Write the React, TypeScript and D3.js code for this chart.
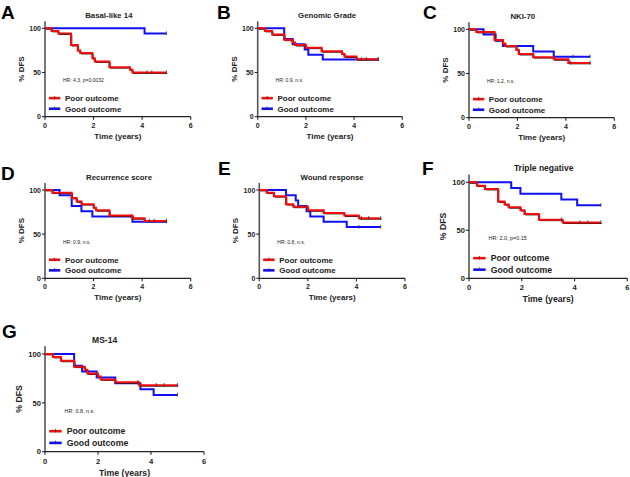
import React from "react";
import * as d3 from "d3";

// ---- data: Kaplan-Meier steps [time (years), % DFS after event] ----
const xTicks = [0, 2, 4, 6];
const yTicks = [0, 50, 100];
const legendLabels = ["Poor outcome", "Good outcome"];

const basalPoor = [[0, 100], [0.27, 97], [0.55, 94], [1.07, 81], [1.35, 75], [1.45, 72], [1.95, 66], [2.05, 62.5], [2.65, 56], [3.5, 53], [3.6, 50]];
const basalPoorCensor = [4.2, 4.4, 5.0];
const basalGood = [[0, 100], [4.1, 94]];
const basalGoodCensor = [5.0];

const genomicPoor = [[0, 100], [0.3, 97], [0.6, 93], [1.1, 87], [1.45, 84], [1.55, 81], [2.0, 78], [2.65, 74], [3.5, 71], [3.6, 68], [4.1, 65]];
const genomicPoorCensor = [4.3, 4.5, 5.0];
const genomicGood = [[0, 100], [1.1, 88], [1.45, 82], [1.95, 76], [2.1, 70], [2.7, 64.7]];
const genomicGoodCensor = [5.0];

const nkiPoor = [[0, 100], [0.3, 97], [1.05, 88], [1.4, 84], [1.5, 81], [1.95, 77], [2.05, 72], [2.65, 68.5], [3.5, 66], [4.1, 62]];
const nkiPoorCensor = [4.2, 5.0];
const nkiGood = [[0, 100], [0.6, 94], [1.1, 87], [1.4, 81], [2.65, 75], [3.5, 69]];
const nkiGoodCensor = [4.3, 5.0];

const recPoor = [[0, 100], [0.3, 97], [1.1, 91], [1.3, 87], [1.5, 84], [2.0, 80], [2.1, 77], [2.65, 71], [3.6, 68], [4.1, 65]];
const recPoorCensor = [4.3, 4.5, 5.0];
const recGood = [[0, 100], [0.6, 94], [1.1, 82], [1.5, 76], [1.95, 70], [3.6, 64]];
const recGoodCensor = [3.53, 5.0];

const woundPoor = [[0, 100], [0.3, 97], [0.6, 93], [1.1, 84], [1.4, 81], [2.0, 77], [2.65, 74], [3.5, 71], [4.1, 68]];
const woundPoorCensor = [4.2, 4.5, 5.0];
const woundGood = [[0, 100], [1.1, 94], [1.5, 88], [1.6, 82], [1.95, 76], [2.1, 70], [2.65, 64], [3.6, 58]];
const woundGoodCensor = [4.1, 5.0];

const triplePoor = [[0, 100], [0.3, 96.5], [0.6, 93], [1.1, 80], [1.35, 77], [1.5, 74], [1.95, 71], [2.1, 67], [2.65, 61], [3.55, 58]];
const triplePoorCensor = [3.5, 4.2, 4.5, 5.0];
const tripleGood = [[0, 100], [1.6, 94], [1.95, 88], [3.5, 82], [4.1, 76]];
const tripleGoodCensor = [5.0];

const msPoor = [[0, 100], [0.3, 97], [0.6, 93], [1.1, 87], [1.5, 84], [1.6, 80], [2.0, 77], [2.1, 74], [2.65, 71], [3.55, 68]];
const msPoorCensor = [3.5, 4.2, 4.5, 5.0];
const msGood = [[0, 100], [1.1, 88], [1.4, 82], [1.95, 76], [2.65, 70], [3.6, 64], [4.1, 58]];
const msGoodCensor = [3.5, 5.0];

const titles = ["Basal-like 14", "Genomic Grade", "NKI-70", "Recurrence score", "Wound response", "Triple negative", "MS-14"];
const letters = ["A", "B", "C", "D", "E", "F", "G"];
const hrTexts = ["HR: 4.3, p=0.0032", "HR: 0.9, n.s.", "HR: 1.2, n.s.", "HR: 0.9, n.s.", "HR: 0.8, n.s.", "HR: 2.0, p=0.15", "HR: 0.8, n.s."];

const poorSeries = [basalPoor, genomicPoor, nkiPoor, recPoor, woundPoor, triplePoor, msPoor];
const poorCensors = [basalPoorCensor, genomicPoorCensor, nkiPoorCensor, recPoorCensor, woundPoorCensor, triplePoorCensor, msPoorCensor];
const goodSeries = [basalGood, genomicGood, nkiGood, recGood, woundGood, tripleGood, msGood];
const goodCensors = [basalGoodCensor, genomicGoodCensor, nkiGoodCensor, recGoodCensor, woundGoodCensor, tripleGoodCensor, msGoodCensor];

// ---- layout (pixels) ----
const layouts = [
  { left: 45, right: 190.7, y100: 28.3, y0: 116.7, titleT: 2.63, letter: [1, 19], s: 1 },
  { left: 257.7, right: 402.3, y100: 28.3, y0: 116.7, titleT: 2.88, letter: [217, 19], s: 1 },
  { left: 469, right: 614.3, y100: 29.3, y0: 117.7, titleT: 2.22, letter: [423, 19], s: 1 },
  { left: 45, right: 190.7, y100: 190, y0: 278.3, titleT: 3.05, letter: [1, 180], s: 1 },
  { left: 259.3, right: 405, y100: 190, y0: 278.3, titleT: 3.0, letter: [218, 175], s: 1 },
  { left: 469, right: 627.3, y100: 182.3, y0: 278.3, titleT: 2.83, letter: [422, 175], s: 1.09 },
  { left: 45, right: 204, y100: 354, y0: 451.7, titleT: 2.25, letter: [2, 338], s: 1.09 },
];

const RED = "#f20d0d";
const BLUE = "#1010f0";
const FONT = "'Liberation Sans', Arial, sans-serif";

function stepValue(series: number[][], t: number) {
  let v = series[0][1];
  for (const [tt, vv] of series) if (tt <= t) v = vv;
  return v;
}

function Panel({ i }: { i: number }) {
  const L = layouts[i];
  const s = L.s;
  const x = d3.scaleLinear().domain([0, 6]).range([L.left, L.right]);
  const y = d3.scaleLinear().domain([0, 100]).range([L.y0, L.y100]);
  const line = d3.line<number[]>().x((d) => x(d[0])).y((d) => y(d[1])).curve(d3.curveStepAfter);
  const full = (ser: number[][]) => [...ser, [5.0, ser[ser.length - 1][1]]];
  const yTop = y(108);
  const series = [
    { data: full(poorSeries[i]), censor: poorCensors[i], raw: poorSeries[i], color: RED, shadow: true },
    { data: full(goodSeries[i]), censor: goodCensors[i], raw: goodSeries[i], color: BLUE, shadow: false },
  ];
  const legendY = [21, 9];
  return (
    <g>
      <text x={L.letter[0]} y={L.letter[1]} fontFamily={FONT} fontWeight="bold" fontSize={19} fill="#000">
        {letters[i]}
      </text>
      <text x={x(L.titleT)} y={L.y100 - 10.5 * s} textAnchor="middle" fontFamily={FONT} fontWeight="bold" fontSize={7.8 * s} fill="#222">
        {titles[i]}
      </text>
      {/* axes */}
      <line x1={L.left} x2={L.left} y1={yTop} y2={L.y0} stroke="#555" strokeWidth={1.6} />
      <line x1={L.left} x2={L.right} y1={L.y0} y2={L.y0} stroke="#222" strokeWidth={1.2} />
      {yTicks.map((t) => (
        <g key={"y" + t}>
          <line x1={L.left - 3} x2={L.left} y1={y(t)} y2={y(t)} stroke="#222" strokeWidth={1.1} />
          <text x={L.left - 4} y={y(t) + 2.5 * s} textAnchor="end" fontFamily={FONT} fontWeight="bold" fontSize={7 * s} fill="#222">
            {t}
          </text>
        </g>
      ))}
      {xTicks.map((t) => (
        <g key={"x" + t}>
          <line x1={x(t)} x2={x(t)} y1={L.y0} y2={L.y0 + 3} stroke="#222" strokeWidth={1.1} />
          <text x={x(t)} y={L.y0 + 11 * s} textAnchor="middle" fontFamily={FONT} fontWeight="bold" fontSize={7 * s} fill="#222">
            {t}
          </text>
        </g>
      ))}
      <text
        transform={`translate(${L.left - 21 * s},${(yTop + L.y0) / 2}) rotate(-90)`}
        textAnchor="middle"
        fontFamily={FONT}
        fontWeight="bold"
        fontSize={8 * s}
        fill="#222"
      >
        % DFS
      </text>
      <text x={(L.left + L.right) / 2} y={L.y0 + 22 * s} textAnchor="middle" fontFamily={FONT} fontWeight="bold" fontSize={8 * s} fill="#222">
        Time (years)
      </text>
      <text x={x(0.74)} y={y(41.5) + 2} fontFamily={FONT} fontSize={5 * s} fill="#222">
        {hrTexts[i]}
      </text>
      {[series[1], series[0]].map((se, k) => (
        <g key={"s" + k}>
          {se.shadow && (
            <path d={line(se.data) || ""} fill="none" stroke="#111" strokeWidth={1} transform="translate(0.8,0.9)" />
          )}
          <path d={line(se.data) || ""} fill="none" stroke={se.color} strokeWidth={2} />
          {se.censor.map((c, j) => (
            <line key={j} x1={x(c)} x2={x(c)} y1={y(stepValue(se.raw, c)) - 2.2} y2={y(stepValue(se.raw, c)) + 1.5} stroke="#333" strokeWidth={0.8} />
          ))}
        </g>
      ))}
      {series.map((se, k) => (
        <g key={"l" + k}>
          <line x1={x(0.16)} x2={x(0.63)} y1={y(legendY[k])} y2={y(legendY[k])} stroke={se.color} strokeWidth={2.6} />
          <line x1={x(0.395)} x2={x(0.395)} y1={y(legendY[k]) - 2.2} y2={y(legendY[k]) + 1.3} stroke="#333" strokeWidth={0.8} />
          <text x={x(0.82)} y={y(legendY[k]) + 3 * s} fontFamily={FONT} fontWeight="bold" fontSize={8 * s} fill="#222">
            {legendLabels[k]}
          </text>
        </g>
      ))}
    </g>
  );
}

export default function App() {
  return (
    <svg width={630} height={477} style={{ position: "absolute", left: 0, top: 0, background: "#fff" }}>
      <rect width={630} height={477} fill="#fff" />
      {layouts.map((_, i) => (
        <Panel key={i} i={i} />
      ))}
    </svg>
  );
}
